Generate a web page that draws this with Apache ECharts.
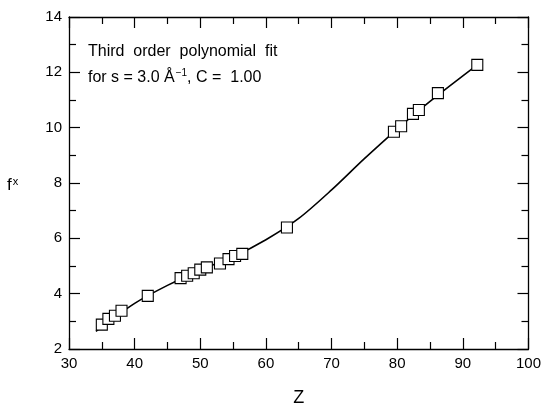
<!DOCTYPE html>
<html><head><meta charset="utf-8">
<script src="https://cdn.jsdelivr.net/npm/echarts@6/dist/echarts.min.js"></script>
<style>html,body{margin:0;padding:0;background:#fff}#c{width:544px;height:412px}</style>
</head><body><div id="c"></div>
<script>
// measured points
const pointZ = [35, 36, 37, 38, 42, 47, 48, 49, 50, 51, 53, 54.3, 55.3, 56.4, 63.2, 79.5, 80.6, 82.4, 83.3, 86.2, 92.2];
const pointF = [2.88, 3.09, 3.2, 3.38, 3.92, 4.56, 4.65, 4.74, 4.87, 4.95, 5.09, 5.25, 5.36, 5.44, 6.39, 9.85, 10.05, 10.5, 10.64, 11.25, 12.27];
// fitted curve
const fitZ = [34.1, 40, 45, 50, 55, 60, 65, 70, 75, 80, 85, 92.2];
const fitF = [2.64, 3.65, 4.3, 4.85, 5.33, 5.95, 6.72, 7.75, 8.88, 9.95, 10.95, 12.27];
const xTicks = [30, 40, 50, 60, 70, 80, 90, 100];
const yTicks = [2, 4, 6, 8, 10, 12, 14];

const FONT = '"Liberation Sans", Arial, sans-serif';
const chart = echarts.init(document.getElementById('c'));
const axisLineStyle = {color: '#000', width: 1.3};
function axisBase(extra) {
  return Object.assign({
    type: 'value',
    axisLine: {show: true, onZero: false, lineStyle: axisLineStyle},
    axisTick: {show: true, inside: true, length: 11, lineStyle: {color: '#000', width: 1.2}},
    minorTick: {show: true, splitNumber: 2, length: 7, lineStyle: {color: '#000', width: 1.2}},
    splitLine: {show: false},
    minorSplitLine: {show: false}
  }, extra);
}
chart.setOption({
  animation: false,
  grid: {left: 69, right: 12, top: 17, bottom: 56},
  xAxis: [
    axisBase({min: xTicks[0], max: xTicks[xTicks.length - 1], interval: 10, position: 'bottom',
      axisLabel: {color: '#000', fontFamily: FONT, fontSize: 15, margin: 7},
      name: 'Z', nameLocation: 'middle', nameGap: 40,
      nameTextStyle: {color: '#000', fontFamily: FONT, fontSize: 18}}),
    axisBase({min: xTicks[0], max: xTicks[xTicks.length - 1], interval: 10, position: 'top',
      axisLabel: {show: false}})
  ],
  yAxis: [
    axisBase({min: yTicks[0], max: yTicks[yTicks.length - 1], interval: 2, position: 'left',
      axisLabel: {color: '#000', fontFamily: FONT, fontSize: 15, margin: 7}}),
    axisBase({min: yTicks[0], max: yTicks[yTicks.length - 1], interval: 2, position: 'right',
      axisLabel: {show: false}})
  ],
  graphic: [
    {type: 'text', left: 7, top: 176, style: {
      text: '{b|f}{s|x}', rich: {
        b: {fontFamily: FONT, fontSize: 17, fill: '#000'},
        s: {fontFamily: FONT, fontSize: 11, fill: '#000', padding: [0, 0, 8, 1]}
      }}},
    {type: 'text', left: 88, top: 44, style: {
      text: 'Third  order  polynomial  fit', fontFamily: FONT, fontSize: 16, fill: '#000'}},
    {type: 'text', left: 88, top: 68, style: {
      text: '{n|for s = 3.0 Å}{s|−1}{n|, C =  1.00}', rich: {
        n: {fontFamily: FONT, fontSize: 16, fill: '#000'},
        s: {fontFamily: FONT, fontSize: 10, fill: '#000', padding: [0, 0, 9, 1]}
      }}}
  ],
  series: [
    {type: 'line', data: fitZ.map((z, i) => [z, fitF[i]]), smooth: 0.3, showSymbol: false,
      lineStyle: {color: '#000', width: 1.6}, z: 2},
    {type: 'scatter', data: pointZ.map((z, i) => [z, pointF[i]]), symbol: 'rect', symbolSize: 11,
      itemStyle: {color: '#fff', opacity: 1, borderColor: '#000', borderWidth: 1.1}, z: 3}
  ]
});
</script></body></html>
